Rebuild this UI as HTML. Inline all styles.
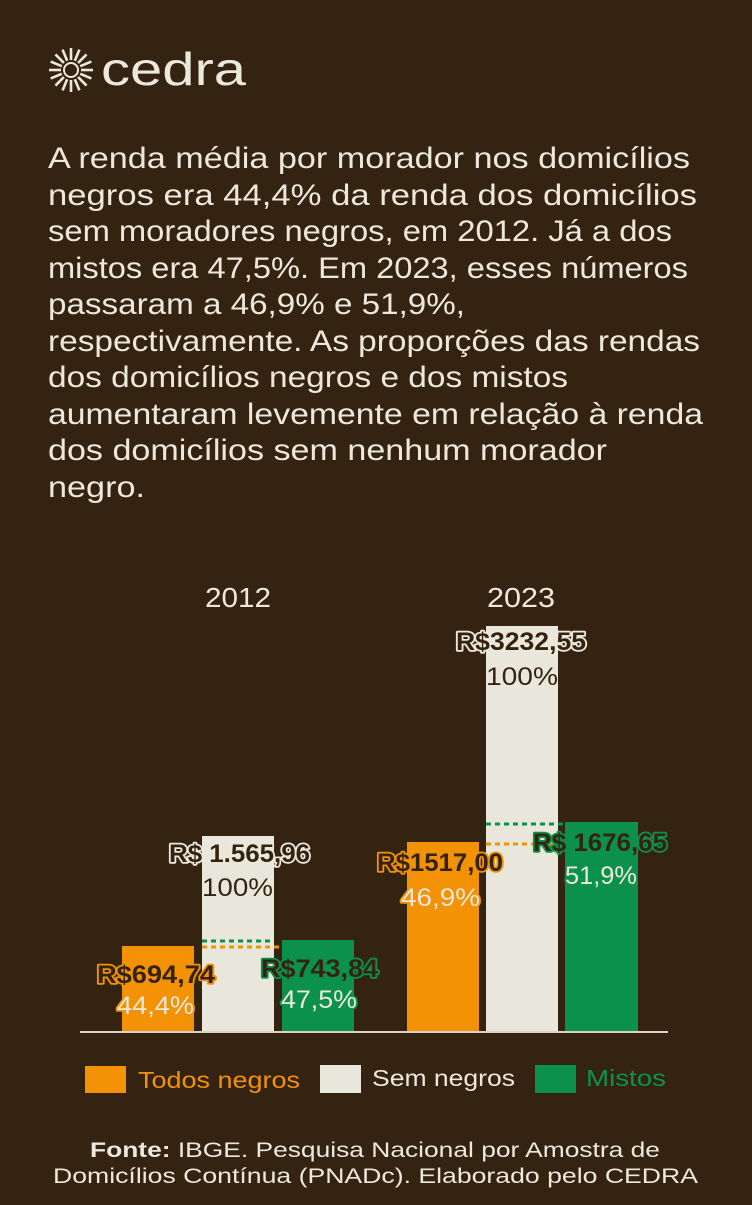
<!DOCTYPE html>
<html><head><meta charset="utf-8"><style>
html,body{margin:0;padding:0;background:#352312;}
body{width:752px;height:1200px;overflow:hidden;font-family:"Liberation Sans",sans-serif;}
</style></head><body>
<svg width="752" height="1200" viewBox="0 0 752 1200" xmlns="http://www.w3.org/2000/svg" font-family="Liberation Sans, sans-serif">
<rect width="752" height="1200" fill="#352312"/>
<!-- logo -->
<g transform="translate(71,70)" stroke="#ece8dc" stroke-width="2.6" stroke-linecap="butt">
<circle r="7" fill="none" stroke-width="2"/>
<g id="rays">
<line x1="10" y1="0" x2="22" y2="0"/>
<line x1="-10" y1="0" x2="-22" y2="0"/>
<line x1="0" y1="10" x2="0" y2="22"/>
<line x1="0" y1="-10" x2="0" y2="-22"/>
</g>
<use href="#rays" transform="rotate(22.5)"/>
<use href="#rays" transform="rotate(45)"/>
<use href="#rays" transform="rotate(67.5)"/>
</g>
<text x="101" y="85" font-size="46" fill="#ece8dc" textLength="145" lengthAdjust="spacingAndGlyphs">cedra</text>
<!-- paragraph -->
<g font-size="30" fill="#ece8dc" lengthAdjust="spacingAndGlyphs">
<text x="48" y="168" textLength="642" lengthAdjust="spacingAndGlyphs">A renda média por morador nos domicílios</text>
<text x="48" y="205" textLength="649" lengthAdjust="spacingAndGlyphs">negros era 44,4% da renda dos domicílios</text>
<text x="48" y="241" textLength="624" lengthAdjust="spacingAndGlyphs">sem moradores negros, em 2012. Já a dos</text>
<text x="48" y="278" textLength="640" lengthAdjust="spacingAndGlyphs">mistos era 47,5%. Em 2023, esses números</text>
<text x="48" y="314" textLength="417" lengthAdjust="spacingAndGlyphs">passaram a 46,9% e 51,9%,</text>
<text x="48" y="351" textLength="652" lengthAdjust="spacingAndGlyphs">respectivamente. As proporções das rendas</text>
<text x="48" y="387" textLength="520" lengthAdjust="spacingAndGlyphs">dos domicílios negros e dos mistos</text>
<text x="48" y="424" textLength="655" lengthAdjust="spacingAndGlyphs">aumentaram levemente em relação à renda</text>
<text x="48" y="460" textLength="559" lengthAdjust="spacingAndGlyphs">dos domicílios sem nenhum morador</text>
<text x="48" y="497" textLength="97" lengthAdjust="spacingAndGlyphs">negro.</text>
</g>
<!-- years -->
<text x="205" y="607" font-size="28" fill="#ece8dc" textLength="66" lengthAdjust="spacingAndGlyphs">2012</text>
<text x="487" y="607" font-size="28" fill="#ece8dc" textLength="68" lengthAdjust="spacingAndGlyphs">2023</text>
<!-- bars -->
<rect x="122" y="946" width="72" height="86" fill="#f39204"/>
<rect x="202" y="836" width="72" height="196" fill="#e9e7dc"/>
<rect x="282" y="940" width="72" height="92" fill="#0c914b"/>
<rect x="407" y="842" width="72" height="190" fill="#f39204"/>
<rect x="486" y="626" width="72" height="406" fill="#e9e7dc"/>
<rect x="565" y="822" width="73" height="210" fill="#0c914b"/>
<!-- dashed -->
<line x1="202" y1="941" x2="274" y2="941" stroke="#0c914b" stroke-width="3" stroke-dasharray="5,4"/>
<line x1="202" y1="947" x2="282" y2="947" stroke="#f39204" stroke-width="3" stroke-dasharray="5,4"/>
<line x1="486" y1="824" x2="565" y2="824" stroke="#0c914b" stroke-width="3" stroke-dasharray="5,4"/>
<line x1="486" y1="844" x2="565" y2="844" stroke="#f39204" stroke-width="3" stroke-dasharray="5,4"/>
<line x1="80" y1="1032" x2="668" y2="1032" stroke="#d8d2c4" stroke-width="2"/>
<!-- labels -->
<g font-size="25" paint-order="stroke" stroke-width="3.5" stroke-linejoin="round">
<text x="169" y="862" font-weight="bold" fill="#352312" stroke="#ece8dc" textLength="141" lengthAdjust="spacingAndGlyphs">R$ 1.565,96</text>
<text x="202" y="896" fill="#352312" stroke="#e9e7dc" stroke-width="1" textLength="71" lengthAdjust="spacingAndGlyphs">100%</text>
<text x="97" y="983" font-weight="bold" fill="#352312" stroke="#f39204" textLength="118" lengthAdjust="spacingAndGlyphs">R$694,74</text>
<text x="117" y="1014" fill="#ece8dc" stroke="#f39204" textLength="77" lengthAdjust="spacingAndGlyphs">44,4%</text>
<text x="261" y="977" font-weight="bold" fill="#352312" stroke="#0c914b" textLength="117" lengthAdjust="spacingAndGlyphs">R$743,84</text>
<text x="281" y="1008" fill="#ece8dc" stroke="#0c914b" textLength="76" lengthAdjust="spacingAndGlyphs">47,5%</text>
<text x="456" y="650" font-weight="bold" fill="#352312" stroke="#ece8dc" textLength="130" lengthAdjust="spacingAndGlyphs">R$3232,55</text>
<text x="486" y="685" fill="#352312" stroke="#e9e7dc" stroke-width="1" textLength="72" lengthAdjust="spacingAndGlyphs">100%</text>
<text x="377" y="871" font-weight="bold" fill="#352312" stroke="#f39204" textLength="126" lengthAdjust="spacingAndGlyphs">R$1517,00</text>
<text x="401" y="906" fill="#ece8dc" stroke="#f39204" textLength="79" lengthAdjust="spacingAndGlyphs">46,9%</text>
<text x="533" y="851" font-weight="bold" fill="#352312" stroke="#0c914b" textLength="134" lengthAdjust="spacingAndGlyphs">R$ 1676,65</text>
<text x="565" y="884" fill="#ece8dc" stroke="#0c914b" textLength="72" lengthAdjust="spacingAndGlyphs">51,9%</text>
</g>
<!-- legend -->
<rect x="85" y="1066" width="41" height="27" fill="#f39204"/>
<text x="138" y="1088" font-size="23" fill="#f39204" textLength="162" lengthAdjust="spacingAndGlyphs">Todos negros</text>
<rect x="320" y="1065" width="41" height="28" fill="#e9e7dc"/>
<text x="372" y="1086" font-size="23" fill="#ece8dc" textLength="143" lengthAdjust="spacingAndGlyphs">Sem negros</text>
<rect x="535" y="1065" width="41" height="28" fill="#0c914b"/>
<text x="586" y="1086" font-size="23" fill="#0c914b" textLength="80" lengthAdjust="spacingAndGlyphs">Mistos</text>
<!-- footer -->
<g font-size="21" fill="#ece8dc">
<text x="90" y="1157" textLength="570" lengthAdjust="spacingAndGlyphs"><tspan font-weight="bold">Fonte:</tspan> IBGE. Pesquisa Nacional por Amostra de</text>
<text x="53" y="1183" textLength="645" lengthAdjust="spacingAndGlyphs">Domicílios Contínua (PNADc). Elaborado pelo CEDRA</text>
</g>
</svg>
</body></html>
